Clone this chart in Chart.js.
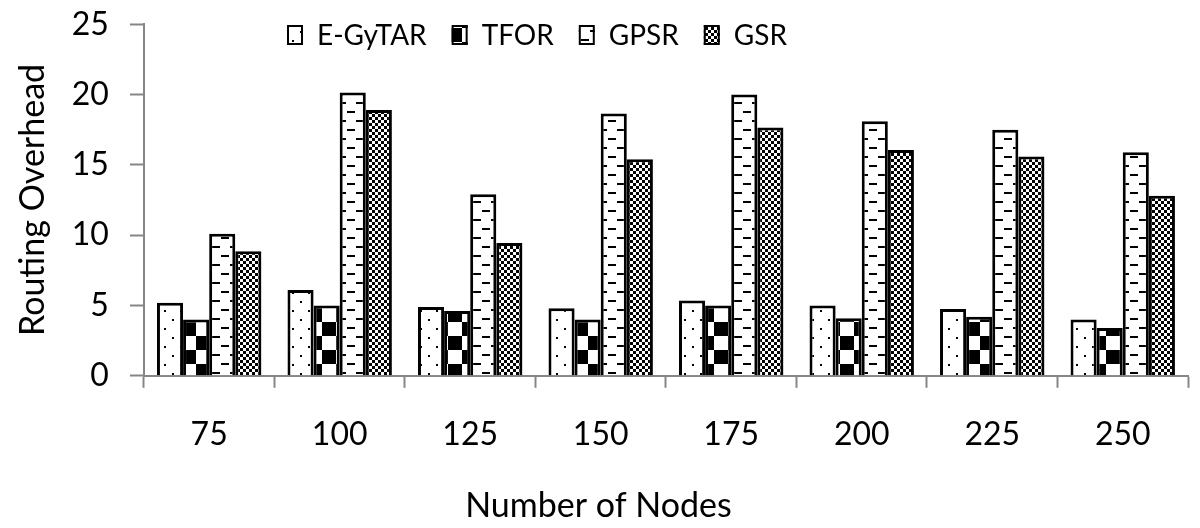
<!DOCTYPE html>
<html>
<head>
<meta charset="utf-8">
<script src="https://cdn.jsdelivr.net/npm/chart.js@4"></script>
<style>
  html, body { margin: 0; padding: 0; background: #fff; }
  #wrap { width: 1200px; height: 528px; position: relative; }
</style>
</head>
<body>
<div id="wrap"><canvas id="overheadChart"></canvas></div>
<script>
// Routing overhead vs number of nodes

const nodes = ['75', '100', '125', '150', '175', '200', '225', '250'];
const egytar = [5.2, 6.1, 4.9, 4.8, 5.35, 5.0, 4.75, 4.0];
const tfor = [4.0, 5.0, 4.6, 4.0, 5.0, 4.1, 4.2, 3.4];
const gpsr = [10.1, 20.15, 12.9, 18.65, 20.0, 18.1, 17.5, 15.9];
const gsr = [8.85, 18.9, 9.45, 15.4, 17.65, 16.05, 15.6, 12.8];
const yTicks = [0, 5, 10, 15, 20, 25];

const FONT = 'Lato';

function makePattern(w, h, draw) {
    const c = document.createElement('canvas');
    c.width = w;
    c.height = h;
    const g = c.getContext('2d');
    g.fillStyle = '#fff';
    g.fillRect(0, 0, w, h);
    g.fillStyle = '#000';
    draw(g);
    return document.createElement('canvas').getContext('2d').createPattern(c, 'repeat');
}

// sparse dots
const dotFill = makePattern(16, 18, g => {
    g.fillRect(4, 4, 2, 2);
    g.fillRect(12, 13, 2, 2);
});

// big checkerboard
const bigCheck = makePattern(28, 28, g => {
    g.fillRect(0, 0, 14, 14);
    g.fillRect(14, 14, 14, 14);
});

// staggered horizontal dashes
const dashFill = makePattern(18, 18, g => {
    g.fillRect(5, 3, 8, 2);
    g.fillRect(14, 12, 4, 2);
    g.fillRect(0, 12, 4, 2);
});

// small checkerboard
const smallCheck = makePattern(6, 6, g => {
    g.fillRect(0, 0, 3, 3);
    g.fillRect(3, 3, 3, 3);
});

// legend sits inside the plot area, a bit left of centre
const insideLegend = {
    id: 'insideLegend',
    afterDraw(chart) {
        const c = chart.ctx;
        const midY = 35;
        let x = 287;
        c.save();
        c.font = '28px ' + FONT;
        c.textBaseline = 'middle';
        c.textAlign = 'left';
        chart.data.datasets.forEach(ds => {
            c.fillStyle = ds.backgroundColor;
            c.fillRect(x, midY - 10, 16, 20);
            c.lineWidth = 2;
            c.strokeStyle = '#000';
            c.strokeRect(x + 1, midY - 9, 14, 18);
            x += 16 + 14;
            c.fillStyle = '#000';
            c.fillText(ds.label, x, midY + 1);
            x += c.measureText(ds.label).width + 25;
        });
        c.restore();
    }
};

function barSet(label, data, fill) {
    return {
        label: label,
        data: data,
        backgroundColor: fill,
        borderColor: '#000',
        borderWidth: 3,
        categoryPercentage: 0.8,
        barPercentage: 1.0
    };
}

const ctx = document.getElementById('overheadChart').getContext('2d');

new Chart(ctx, {
    type: 'bar',
    data: {
        labels: nodes,
        datasets: [
            barSet('E-GyTAR', egytar, dotFill),
            barSet('TFOR', tfor, bigCheck),
            barSet('GPSR', gpsr, dashFill),
            barSet('GSR', gsr, smallCheck)
        ]
    },
    options: {
        responsive: true,
        maintainAspectRatio: false,
        animation: false,
        layout: {
            padding: { left: 9, right: 12, top: 0, bottom: 0 }
        },
        plugins: {
            legend: { display: false },
            tooltip: { enabled: false },
            title: {
                display: true,
                position: 'bottom',
                text: 'Number of Nodes',
                color: '#000',
                font: { family: FONT, size: 34, weight: 'normal' },
                padding: { top: 3, bottom: 2 }
            }
        },
        scales: {
            x: {
                offset: true,
                grid: {
                    offset: true,
                    drawOnChartArea: false,
                    tickLength: 12,
                    tickColor: '#868686',
                    tickWidth: 2
                },
                border: { color: '#868686', width: 2 },
                ticks: {
                    color: '#000',
                    font: { family: FONT, size: 32 },
                    padding: 28
                }
            },
            y: {
                min: 0,
                max: 25,
                afterBuildTicks(axis) {
                    axis.ticks = yTicks.map(v => ({ value: v }));
                },
                afterFit(axis) {
                    axis.width -= 19;
                },
                grid: {
                    drawOnChartArea: false,
                    tickLength: 14,
                    tickColor: '#868686',
                    tickWidth: 2
                },
                border: { color: '#868686', width: 2 },
                ticks: {
                    color: '#000',
                    font: { family: FONT, size: 32, lineHeight: 0.2 },
                    padding: 21
                },
                title: {
                    display: true,
                    text: 'Routing Overhead',
                    color: '#000',
                    font: { family: FONT, size: 34 },
                    padding: { top: 4, bottom: 16 }
                }
            }
        }
    },
    plugins: [insideLegend]
});
</script>
</body>
</html>
